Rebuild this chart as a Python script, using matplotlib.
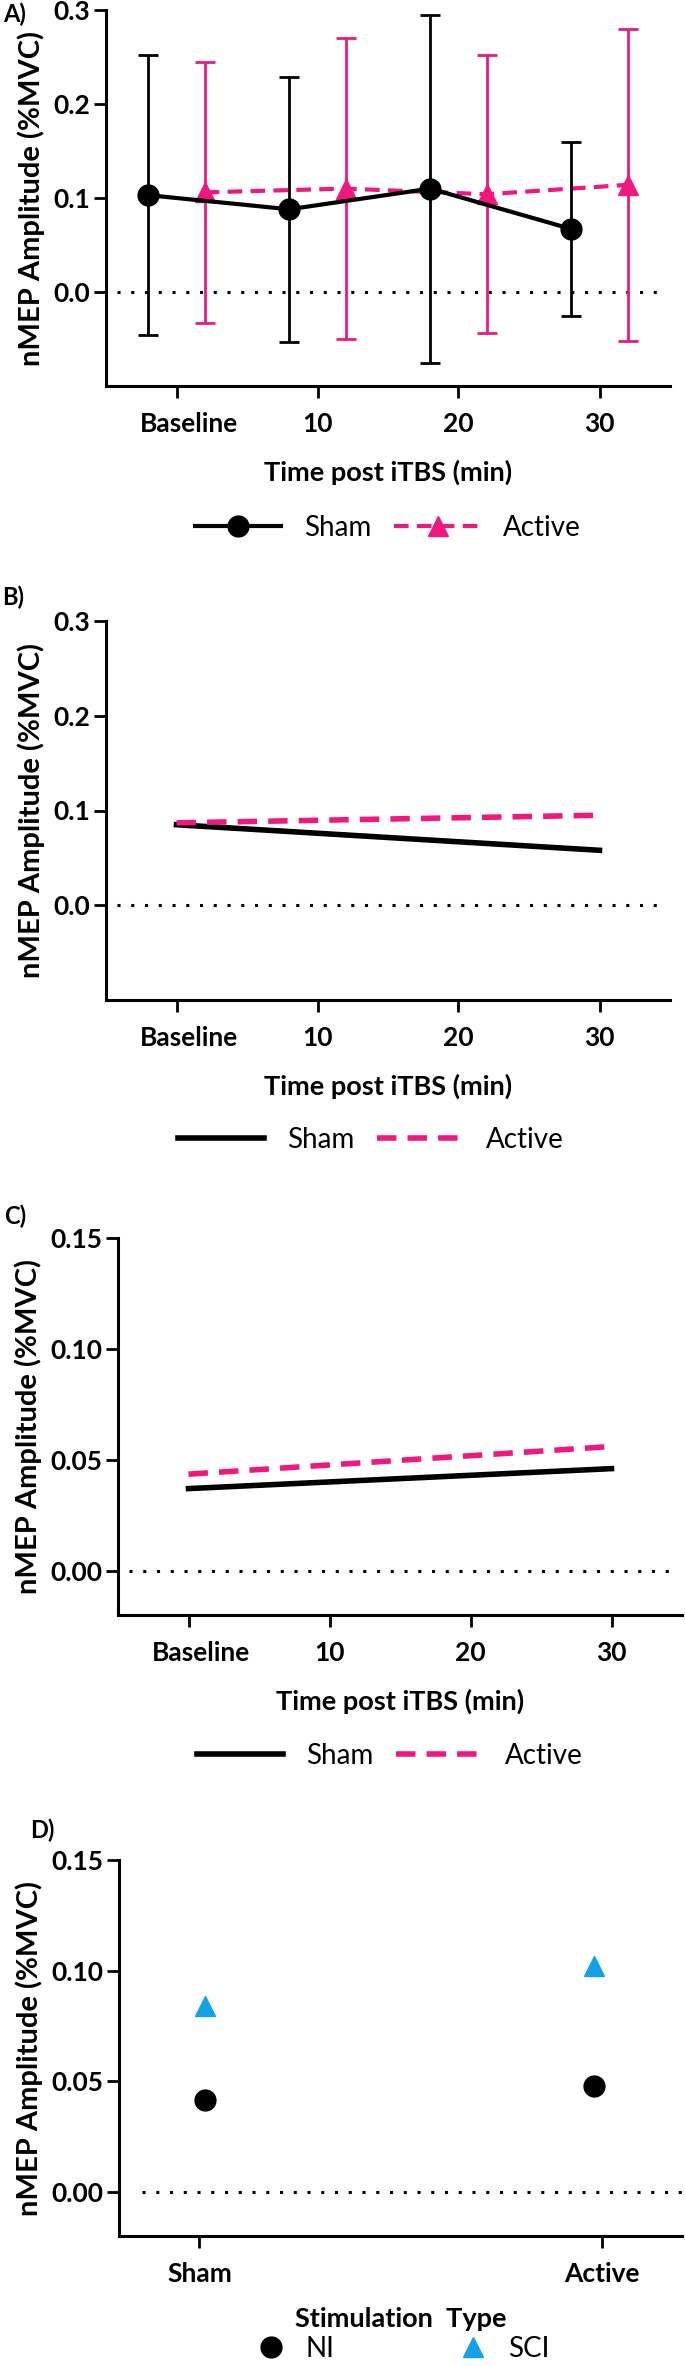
import matplotlib
matplotlib.use("Agg")
import matplotlib.pyplot as plt
from matplotlib.lines import Line2D
from matplotlib.transforms import ScaledTranslation

plt.rcParams['font.family'] = ['Lato', 'DejaVu Sans']

# x axis (time post iTBS)
time_ticks = [0, 10, 20, 30]
time_labels = ['Baseline', '10', '20', '30']

# panel A: group means and SD
a_sham_x = [-2, 8, 18, 28]
a_sham_mean = [0.103, 0.088, 0.110, 0.067]
a_sham_sd = [0.149, 0.141, 0.185, 0.093]
a_active_x = [2, 12, 22, 32]
a_active_mean = [0.106, 0.110, 0.104, 0.114]
a_active_sd = [0.139, 0.160, 0.148, 0.166]

# panel B: model fit
b_x = [0, 30]
b_sham = [0.085, 0.058]
b_active = [0.087, 0.095]

# panel C: model fit
c_x = [0, 30]
c_sham = [0.037, 0.046]
c_active = [0.0435, 0.056]

# panel D: stimulation type
d_groups = ['Sham', 'Active']
d_x = [0.015, 0.98]
d_ni = [0.0415, 0.0476]
d_sci = [0.084, 0.102]

PINK = '#F0177F'
BLUE = '#14A2E6'
W, H = 685, 2366
TICK_FS = 19
XLAB_FS = 19.5
YLAB_FS = 21
LEG_FS = 20


def make_axes(fig, left, right, top, bottom):
    ax = fig.add_axes([left / W, 1 - bottom / H, (right - left) / W, (bottom - top) / H])
    ax.spines['top'].set_visible(False)
    ax.spines['right'].set_visible(False)
    ax.spines['left'].set_linewidth(2.2)
    ax.spines['bottom'].set_linewidth(2.2)
    ax.tick_params(width=2.0, length=8.5, labelsize=TICK_FS, pad=3)
    ax.tick_params(axis='x', pad=10)
    return ax


def set_ylabels(ax, ticks, labels):
    ax.set_yticks(ticks)
    ax.set_yticklabels(labels, fontweight='bold')
    ax.set_ylabel('nMEP Amplitude (%MVC)', fontsize=YLAB_FS, fontweight='bold', labelpad=6)


def style_time_axis(fig, ax):
    ax.set_xlim(-5, 35)
    ax.set_xticks(time_ticks)
    ax.set_xticklabels(time_labels, fontweight='bold')
    # the Baseline label sits a little right of its tick
    lab = ax.get_xticklabels()[0]
    lab.set_transform(lab.get_transform() + ScaledTranslation(12 / 100, 0, fig.dpi_scale_trans))
    ax.set_xlabel('Time post iTBS (min)', fontsize=XLAB_FS, fontweight='bold', labelpad=17)
    ax.axhline(0, xmin=0.02, xmax=0.98, color='black', lw=2.2, linestyle=(0, (1, 3.5)))


def time_legend(fig, handles, cx, cy):
    fig.legend(handles, ['Sham', 'Active'], loc='center', bbox_to_anchor=(cx / W, 1 - cy / H),
               ncol=2, frameon=False, fontsize=LEG_FS, handlelength=3.1, handletextpad=0.8,
               columnspacing=0.85)


fig = plt.figure(figsize=(W / 100, H / 100), dpi=100)

# ---- A ----
ax = make_axes(fig, 106, 670, 10, 386)
style_time_axis(fig, ax)
ax.set_ylim(-0.1, 0.3)
set_ylabels(ax, [0.0, 0.1, 0.2, 0.3], ['0.0', '0.1', '0.2', '0.3'])
ax.errorbar(a_active_x, a_active_mean, yerr=a_active_sd, color=PINK, lw=3,
            linestyle=(0, (3.5, 2)), marker='^', ms=15, elinewidth=2,
            capsize=7, capthick=2, zorder=3)
ax.errorbar(a_sham_x, a_sham_mean, yerr=a_sham_sd, color='black', lw=3,
            marker='o', ms=15, elinewidth=2, capsize=7, capthick=2, zorder=4)
handles = [Line2D([], [], color='black', lw=3, marker='o', ms=15),
           Line2D([], [], color=PINK, lw=3, linestyle=(0, (3.5, 2)), marker='^', ms=15)]
time_legend(fig, handles, 388, 528)

# ---- B ----
ax = make_axes(fig, 106, 670, 621, 1000)
style_time_axis(fig, ax)
ax.set_ylim(-0.1, 0.3)
set_ylabels(ax, [0.0, 0.1, 0.2, 0.3], ['0.0', '0.1', '0.2', '0.3'])
ax.plot(b_x, b_sham, color='black', lw=4)
ax.plot(b_x, b_active, color=PINK, lw=4, linestyle=(0, (3.5, 2)))
handles = [Line2D([], [], color='black', lw=4),
           Line2D([], [], color=PINK, lw=4, linestyle=(0, (3.5, 2)))]
time_legend(fig, handles, 371, 1140)

# ---- C ----
ax = make_axes(fig, 118, 682, 1238, 1615)
style_time_axis(fig, ax)
ax.set_ylim(-0.02, 0.15)
set_ylabels(ax, [0.0, 0.05, 0.10, 0.15], ['0.00', '0.05', '0.10', '0.15'])
ax.plot(c_x, c_sham, color='black', lw=4)
ax.plot(c_x, c_active, color=PINK, lw=4, linestyle=(0, (3.5, 2)))
time_legend(fig, handles, 390, 1756)

# ---- D ----
ax = make_axes(fig, 119, 682, 1860, 2236)
ax.set_xlim(-0.2, 1.2)
ax.set_xticks([0, 1])
ax.set_xticklabels(d_groups, fontweight='bold')
ax.set_ylim(-0.02, 0.15)
set_ylabels(ax, [0.0, 0.05, 0.10, 0.15], ['0.00', '0.05', '0.10', '0.15'])
ax.set_xlabel('Stimulation  Type', fontsize=XLAB_FS, fontweight='bold', labelpad=15)
ax.axhline(0, xmin=0.04, xmax=1.0, color='black', lw=2.2, linestyle=(0, (1, 3.5)))
ax.plot(d_x, d_ni, linestyle='none', marker='o', ms=15, color='black')
ax.plot(d_x, d_sci, linestyle='none', marker='^', ms=15, color=BLUE)
handles = [Line2D([], [], linestyle='none', marker='o', ms=15, color='black'),
           Line2D([], [], linestyle='none', marker='^', ms=15, color=BLUE)]
fig.legend(handles, ['NI', 'SCI'], loc='center', bbox_to_anchor=(403 / W, 1 - 2349 / H),
           ncol=2, frameon=False, fontsize=LEG_FS, handlelength=1.0, handletextpad=0.75,
           columnspacing=4.5, borderpad=0.1)

# panel letters
for label, x, y in [('A)', 3, 14), ('B)', 2, 597), ('C)', 4, 1216), ('D)', 30, 1830)]:
    fig.text(x / W, 1 - y / H, label, fontsize=17, fontweight='bold', va='center', ha='left')

fig.savefig('out.png', dpi=100)
